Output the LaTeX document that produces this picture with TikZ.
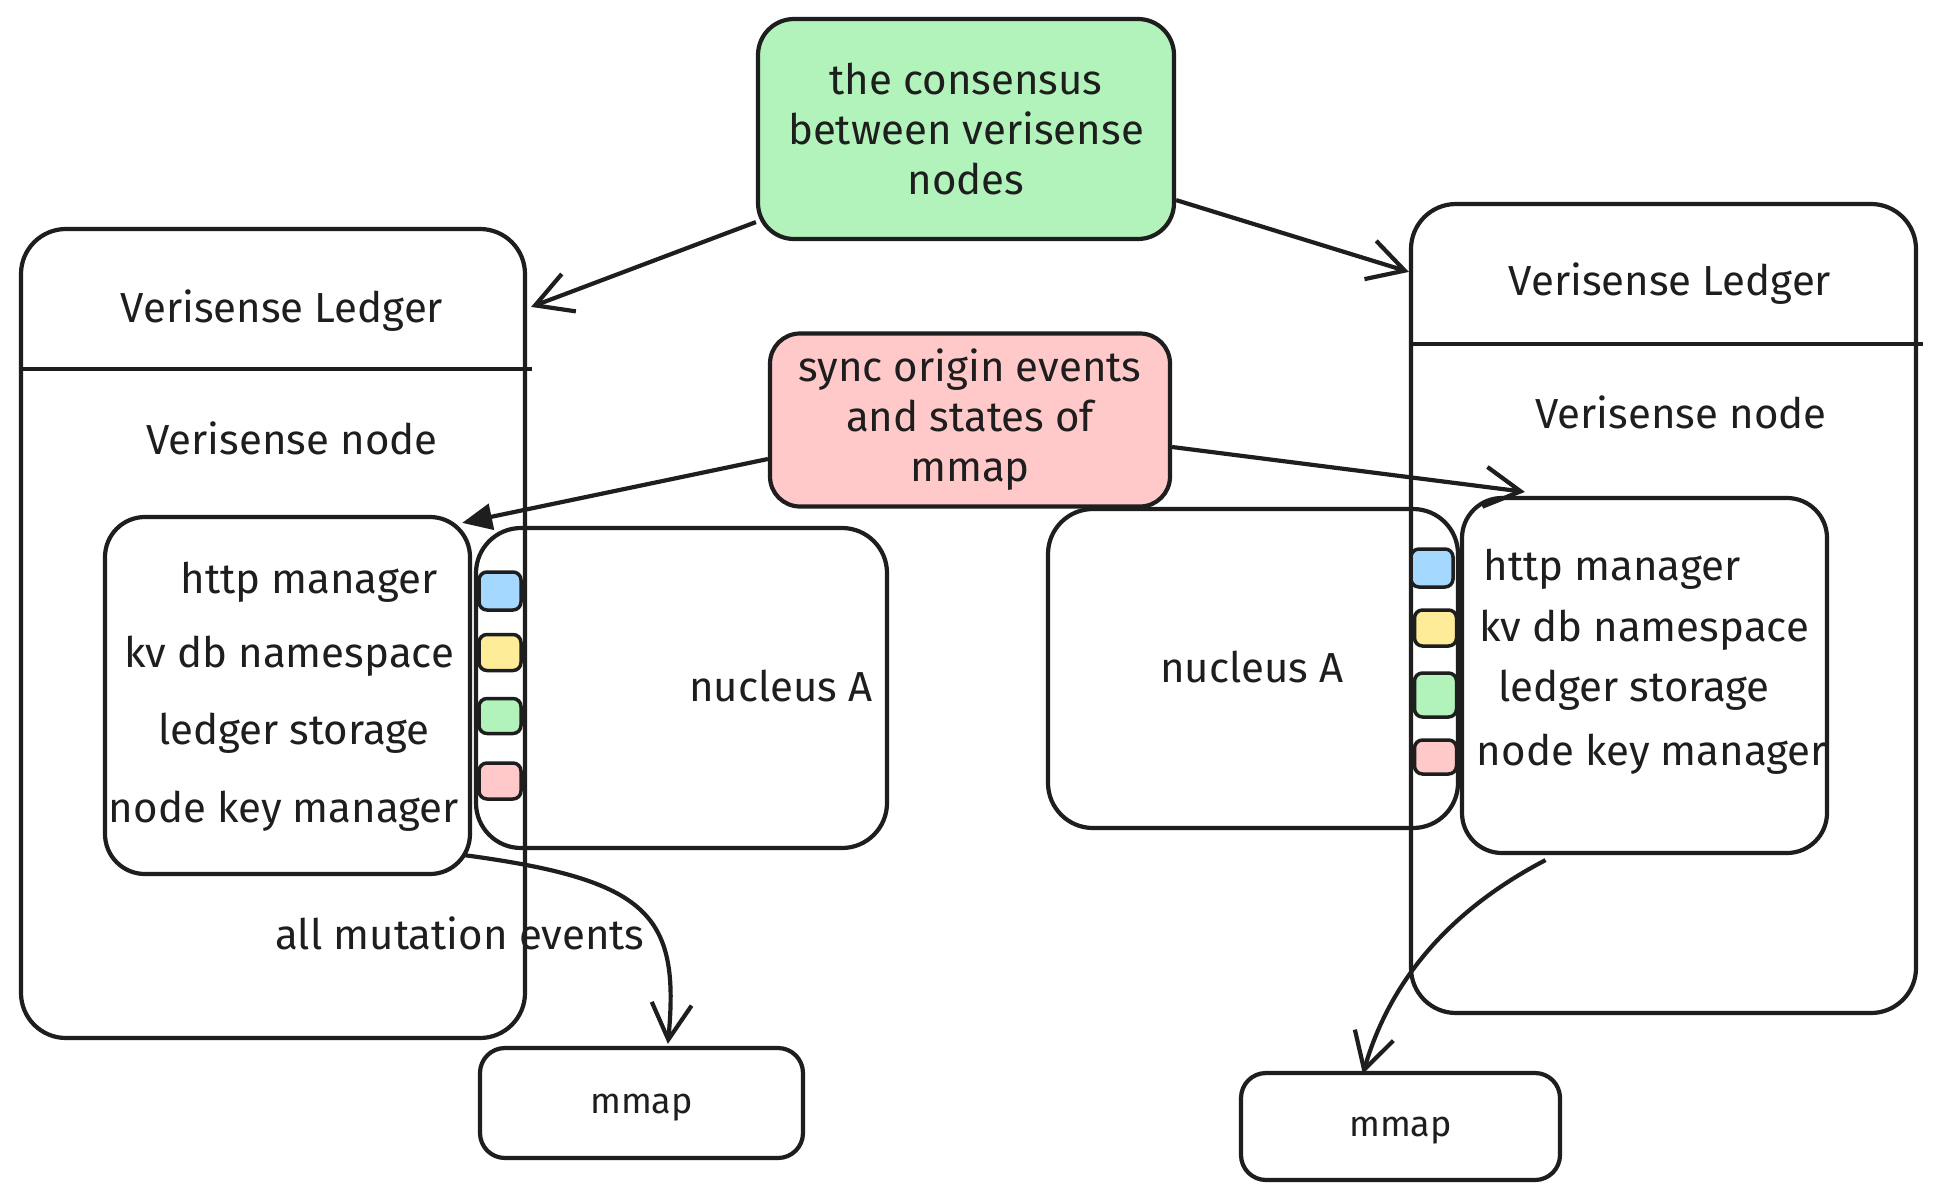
\documentclass[tikz,border=0pt]{standalone}
\usepackage{fontspec}
\setmainfont{Fira Sans}
\usetikzlibrary{arrows.meta,calc}
\definecolor{ink}{HTML}{1E1E1E}
\definecolor{cgreen}{HTML}{B2F2BB}
\definecolor{cpink}{HTML}{FFC9C9}
\definecolor{cblue}{HTML}{A5D8FF}
\definecolor{cyellow}{HTML}{FFEC99}
\begin{document}
\begin{tikzpicture}[x=1pt,y=-1pt,
  box/.style={draw=ink,line width=4.2pt,rounded corners=36pt,inner sep=0pt,
    font=\fontsize{42}{50}\selectfont,text=ink,align=center},
  lbl/.style={font=\fontsize{42}{50}\selectfont,text=ink,inner sep=0pt,align=center},
  mbox/.style={draw=ink,line width=4.2pt,rounded corners=25pt,inner sep=0pt,
    font=\fontsize{36}{44}\selectfont,text=ink,align=center},
  slot/.style={draw=ink,line width=3.5pt,rounded corners=8pt,minimum width=42pt,inner sep=0pt},
  conn/.style={draw=ink,line width=4.2pt,-{Straight Barb[length=36pt,width=40pt]}},
]
\useasboundingbox (0,0) rectangle (1938,1199);
\fill[white] (0,0) rectangle (1938,1199);

% top boxes
\node[box,fill=cgreen,minimum width=416pt,minimum height=220pt] (green) at (966,129)
  {the consensus\\between verisense\\nodes};
\node[box,fill=cpink,minimum width=400pt,minimum height=173pt,rounded corners=30pt] (pink) at (970,420)
  {sync origin events\\and states of\\mmap};

% left side
\node[box,minimum width=504pt,minimum height=809pt,rounded corners=45pt] (lbig) at (273,633.5) {};
\draw[ink,line width=4.2pt] ($(lbig.north west)+(0,142)$) -- ($(lbig.north east)+(5,142)$);
\node[lbl] (lledger) at (282,311) {Verisense Ledger};
\node[lbl] (lnode) at (292,438) {Verisense node};
\node[box,minimum width=365pt,minimum height=357pt,rounded corners=40pt] (linner) at (287.5,695.5) {};
\node[box,minimum width=411pt,minimum height=320pt,rounded corners=45pt] (lnuc) at (681.5,688) {};
\node[lbl] (lnuctext) at (781,686) {nucleus A};
\node[lbl] (lhttp) at (309,582) {http manager};
\node[lbl] (lkv) at (289,656) {kv db namespace};
\node[lbl] (lledst) at (294,733) {ledger storage};
\node[lbl] (lkey) at (284,811) {node key manager};
\node[slot,fill=cblue,minimum height=38pt] (lsq1) at (500,591) {};
\node[slot,fill=cyellow,minimum height=36pt] (lsq2) at (500,652.5) {};
\node[slot,fill=cgreen,minimum height=35pt] (lsq3) at (500,716) {};
\node[slot,fill=cpink,minimum height=36pt] (lsq4) at (500,781) {};
\node[mbox,minimum width=323pt,minimum height=110pt] (lmmap) at (641.5,1103) {};
\node[lbl,font=\fontsize{36}{44}\selectfont] (lmmaptext) at (641.5,1108) {mmap};
\node[lbl] (mutation) at (460,933) {all mutation events};

% right side
\node[box,minimum width=505pt,minimum height=809pt,rounded corners=45pt] (rbig) at (1663.5,608.5) {};
\draw[ink,line width=4.2pt] ($(rbig.north west)+(0,142)$) -- ($(rbig.north east)+(5,142)$);
\node[lbl] (rledger) at (1670,284) {Verisense Ledger};
\node[lbl] (rnode) at (1681,412) {Verisense node};
\node[box,minimum width=365pt,minimum height=355pt,rounded corners=40pt] (rinner) at (1644.5,675.5) {};
\node[box,minimum width=410pt,minimum height=319pt,rounded corners=45pt] (rnuc) at (1253,668.5) {};
\node[lbl] (rnuctext) at (1252,667) {nucleus A};
\node[lbl] (rhttp) at (1612,569) {http manager};
\node[lbl] (rkv) at (1644,630) {kv db namespace};
\node[lbl] (rledst) at (1634,690) {ledger storage};
\node[lbl] (rkey) at (1652,754) {node key manager};
\node[slot,fill=cblue,minimum height=38pt] (rsq1) at (1432,568) {};
\node[slot,fill=cyellow,minimum height=36pt] (rsq2) at (1435.5,628) {};
\node[slot,fill=cgreen,minimum height=44pt] (rsq3) at (1435.5,695) {};
\node[slot,fill=cpink,minimum height=34pt] (rsq4) at (1435.5,757) {};
\node[mbox,minimum width=319pt,minimum height=107pt] (rmmap) at (1400.5,1126.5) {};
\node[lbl,font=\fontsize{36}{44}\selectfont] (rmmaptext) at (1400.5,1131) {mmap};

% connectors
\draw[conn] ($(green.south west)+(0,-19)$) -- ($(lbig.north east)+(4,80)$);
\draw[conn] ($(green.south east)+(0,-41)$) -- ($(rbig.north west)+(0,70)$);
\draw[draw=ink,line width=4.2pt,-{Triangle[length=30pt,width=26pt]}]
  ($(pink.west)+(0,39)$) -- ($(linner.north east)+(-10,8)$);
\draw[conn] ($(pink.east)+(0,27)$) -- ($(rinner.north west)+(65,-4)$);
\draw[conn] ($(linner.south east)+(-8,-21)$) .. controls (650,880) and (680,915) .. ($(lmmap.north west)+(190,-2)$);
\draw[conn] ($(rinner.south)+(-99,5)$) .. controls (1450,910) and (1390,980) .. ($(rmmap.north west)+(124,3)$);
\end{tikzpicture}
\end{document}
